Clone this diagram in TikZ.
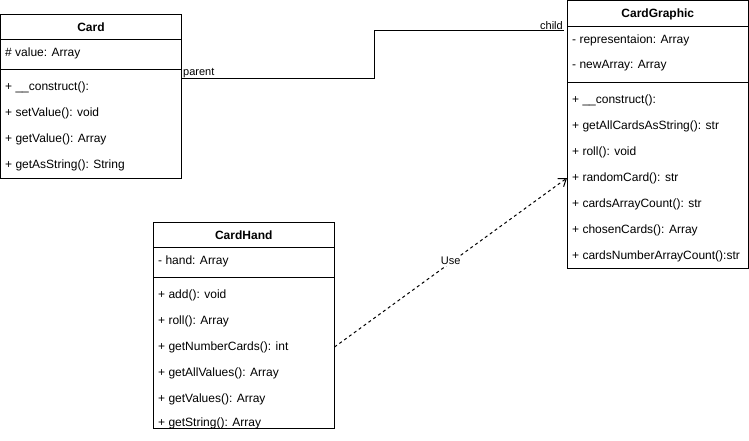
\documentclass[tikz,border=0pt]{standalone}
\usepackage{fontspec}
\setmainfont{Liberation Sans}
\usetikzlibrary{arrows.meta,calc}
\begin{document}
\begin{tikzpicture}[x=1pt,y=-1pt,
  frame/.style={draw, line width=1pt, inner sep=0pt},
  title/.style={font=\fontsize{12}{14}\selectfont\bfseries, inner sep=0pt},
  member/.style={font=\fontsize{12}{14}\selectfont, anchor=west, inner sep=0pt},
  rule/.style={line width=1pt},
  lbl/.style={font=\fontsize{11}{13}\selectfont, inner sep=1pt},
  link/.style={line width=1pt},
  uses/.style={line width=1pt, dash pattern=on 3pt off 3pt,
    -{Straight Barb[length=7pt,width=10pt,line width=1pt]}},
]
\useasboundingbox (0,0) rectangle (749,441);

% ---------- Card ----------
\node[frame, minimum width=181pt, minimum height=164pt] (card) at (91,96.5) {};
\node[title] (cardT) at (91,27) {Card};
\draw[rule] (card.west |- 0,40) -- (card.east |- 0,40);
\node[member] (ca1) at (5,53) {\# value: Array};
\draw[rule] (card.west |- 0,70) -- (card.east |- 0,70);
\node[member] (cm1) at (5,87) {+ \_\_construct():};
\node[member] (cm2) at (5,113) {+ setValue(): void};
\node[member] (cm3) at (5,139) {+ getValue(): Array};
\node[member] (cm4) at (5,165) {+ getAsString(): String};

% ---------- CardGraphic ----------
\node[frame, minimum width=180.5pt, minimum height=267.5pt] (cg) at (657.75,134.75) {};
\node[title] (cgT) at (657.75,14) {CardGraphic};
\draw[rule] (cg.west |- 0,27) -- (cg.east |- 0,27);
\node[member] (cga1) at (572,40) {- representaion: Array};
\node[member] (cga2) at (572,66) {- newArray: Array};
\draw[rule] (cg.west |- 0,82.5) -- (cg.east |- 0,82.5);
\node[member] (cgm1) at (572,100) {+ \_\_construct():};
\node[member] (cgm2) at (572,126) {+ getAllCardsAsString(): str};
\node[member] (cgm3) at (572,152) {+ roll(): void};
\node[member] (cgm4) at (572,178) {+ randomCard(): str};
\node[member] (cgm5) at (572,204) {+ cardsArrayCount(): str};
\node[member] (cgm6) at (572,230) {+ chosenCards(): Array};
\node[member] (cgm7) at (572,256) {+ cardsNumberArrayCount():str};

% ---------- CardHand ----------
\node[frame, minimum width=180.5pt, minimum height=206.5pt] (ch) at (243.75,325.25) {};
\node[title] (chT) at (243.75,235) {CardHand};
\draw[rule] (ch.west |- 0,247.5) -- (ch.east |- 0,247.5);
\node[member] (cha1) at (158,261) {- hand: Array};
\draw[rule] (ch.west |- 0,277) -- (ch.east |- 0,277);
\node[member] (chm1) at (158,295) {+ add(): void};
\node[member] (chm2) at (158,321) {+ roll(): Array};
\node[member] (chm3) at (158,347) {+ getNumberCards(): int};
\node[member] (chm4) at (158,373) {+ getAllValues(): Array};
\node[member] (chm5) at (158,399) {+ getValues(): Array};
\node[member] (chm6) at (158,423) {+ getString(): Array};

% ---------- parent / child association ----------
\coordinate (pa) at ([yshift=17.5pt]card.east);
\coordinate (ch0) at ([yshift=103.75pt]cg.west);
\draw[link, shorten >=3pt] (pa) -| ($(pa)!0.5!(ch0)$) |- (ch0);
\node[lbl, anchor=south west] (plbl) at ([xshift=0pt]pa) {parent};
\node[lbl, anchor=south east] (clbl) at ([xshift=-3pt]ch0) {child};

% ---------- dependency ----------
\draw[uses] (ch.east |- chm3) -- (cg.west |- cgm4)
  node[lbl, pos=0.5, fill=white, yshift=1.5pt] (ulbl) {Use};
\end{tikzpicture}
\end{document}
